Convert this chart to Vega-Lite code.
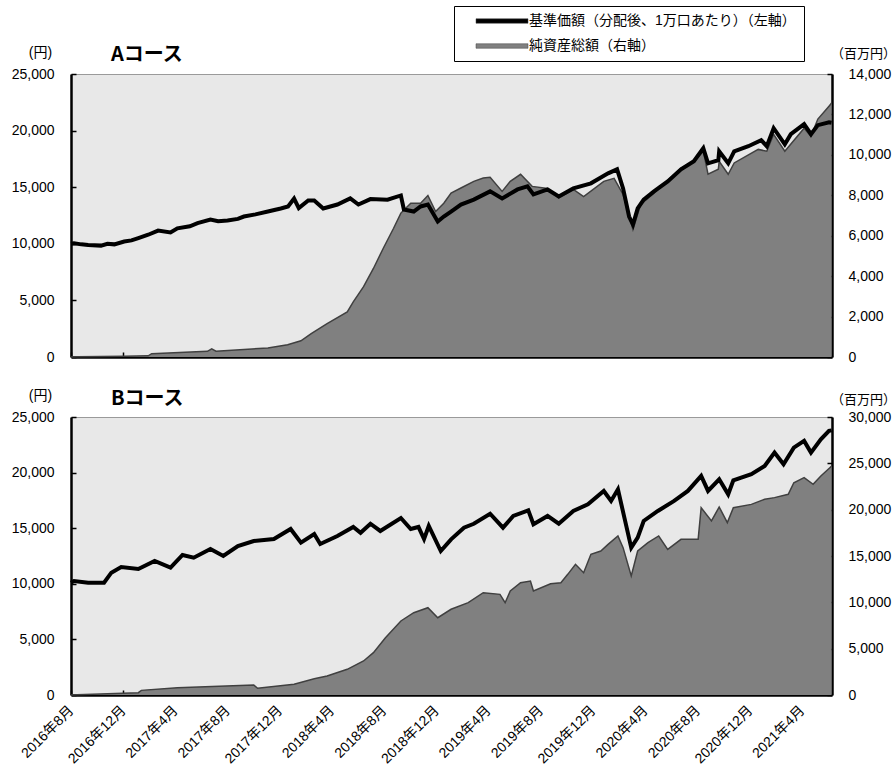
{
  "$schema": "https://vega.github.io/schema/vega-lite/v6.json",
  "background": "white",
  "padding": {"left": 10, "top": 5, "right": 0, "bottom": 0},
  "bounds": "flush",
  "spacing": 60,
  "config": {
    "font": "Liberation Sans, Noto Sans CJK JP",
    "view": {"fill": "#e8e8e8", "stroke": "#9a9a9a", "strokeWidth": 1},
    "axis": {
      "grid": false, "domainColor": "#000000", "domainWidth": 2.5,
      "tickColor": "#000000", "tickWidth": 1.5, "tickSize": -5,
      "labelFont": "Liberation Sans, Noto Sans CJK JP", "labelFontSize": 14, "labelColor": "#000000",
      "titleFont": "Liberation Sans, Noto Sans CJK JP", "titleFontSize": 14, "titleFontWeight": "normal", "titleColor": "#000000",
      "zindex": 1
    },
    "title": {"font": "Noto Sans CJK JP", "color": "#000000"}
  },
  "datasets": {
    "priceA": [
      {"d": "2016/08/01", "v": 10000}, {"d": "2016/08/08", "v": 10040}, {"d": "2016/08/25", "v": 9950},
      {"d": "2016/09/10", "v": 9900}, {"d": "2016/10/10", "v": 9840}, {"d": "2016/10/25", "v": 10000},
      {"d": "2016/11/10", "v": 9950}, {"d": "2016/12/03", "v": 10200}, {"d": "2016/12/20", "v": 10300},
      {"d": "2017/01/05", "v": 10500}, {"d": "2017/01/28", "v": 10800}, {"d": "2017/02/20", "v": 11170},
      {"d": "2017/03/21", "v": 11000}, {"d": "2017/04/06", "v": 11370}, {"d": "2017/05/05", "v": 11550},
      {"d": "2017/05/23", "v": 11820}, {"d": "2017/06/22", "v": 12140}, {"d": "2017/07/10", "v": 12000},
      {"d": "2017/08/01", "v": 12060}, {"d": "2017/08/25", "v": 12200}, {"d": "2017/09/08", "v": 12410},
      {"d": "2017/10/05", "v": 12600}, {"d": "2017/11/03", "v": 12850}, {"d": "2017/12/03", "v": 13120},
      {"d": "2017/12/20", "v": 13300}, {"d": "2018/01/03", "v": 14000}, {"d": "2018/01/14", "v": 13150},
      {"d": "2018/02/05", "v": 13830}, {"d": "2018/02/19", "v": 13830}, {"d": "2018/03/12", "v": 13120},
      {"d": "2018/04/14", "v": 13470}, {"d": "2018/05/14", "v": 14010}, {"d": "2018/06/02", "v": 13470},
      {"d": "2018/06/30", "v": 13950}, {"d": "2018/08/09", "v": 13900}, {"d": "2018/09/09", "v": 14270},
      {"d": "2018/09/16", "v": 13030}, {"d": "2018/10/09", "v": 12850}, {"d": "2018/10/25", "v": 13300},
      {"d": "2018/11/11", "v": 13470}, {"d": "2018/12/04", "v": 11970}, {"d": "2018/12/18", "v": 12410},
      {"d": "2019/01/04", "v": 12850}, {"d": "2019/01/27", "v": 13470}, {"d": "2019/02/26", "v": 13900},
      {"d": "2019/04/05", "v": 14630}, {"d": "2019/05/03", "v": 14010}, {"d": "2019/06/08", "v": 14800},
      {"d": "2019/07/01", "v": 15070}, {"d": "2019/07/15", "v": 14360}, {"d": "2019/08/17", "v": 14800},
      {"d": "2019/09/12", "v": 14180}, {"d": "2019/10/16", "v": 14890}, {"d": "2019/11/26", "v": 15340},
      {"d": "2020/01/05", "v": 16220}, {"d": "2020/01/26", "v": 16580}, {"d": "2020/02/09", "v": 14890},
      {"d": "2020/02/23", "v": 12410}, {"d": "2020/03/03", "v": 11700}, {"d": "2020/03/14", "v": 13120},
      {"d": "2020/03/28", "v": 13900}, {"d": "2020/04/21", "v": 14630}, {"d": "2020/05/23", "v": 15510},
      {"d": "2020/06/23", "v": 16580}, {"d": "2020/07/23", "v": 17290}, {"d": "2020/08/14", "v": 18440},
      {"d": "2020/08/25", "v": 17110}, {"d": "2020/09/18", "v": 17380}, {"d": "2020/09/20", "v": 18170},
      {"d": "2020/10/11", "v": 17110}, {"d": "2020/10/25", "v": 18170}, {"d": "2020/11/27", "v": 18620},
      {"d": "2020/12/27", "v": 19150}, {"d": "2021/01/09", "v": 18620}, {"d": "2021/01/25", "v": 20210},
      {"d": "2021/02/20", "v": 18790}, {"d": "2021/03/06", "v": 19680}, {"d": "2021/04/06", "v": 20570},
      {"d": "2021/04/22", "v": 19680}, {"d": "2021/05/08", "v": 20480}, {"d": "2021/06/03", "v": 20740},
      {"d": "2021/06/09", "v": 20700}
    ],
    "aumA": [
      {"d": "2016/08/01", "v": 0}, {"d": "2016/08/15", "v": 10}, {"d": "2016/12/03", "v": 35},
      {"d": "2017/01/28", "v": 60}, {"d": "2017/02/05", "v": 165}, {"d": "2017/06/15", "v": 280},
      {"d": "2017/06/25", "v": 400}, {"d": "2017/07/05", "v": 290}, {"d": "2017/11/03", "v": 447},
      {"d": "2017/12/19", "v": 610}, {"d": "2018/01/19", "v": 800}, {"d": "2018/02/12", "v": 1160},
      {"d": "2018/03/21", "v": 1650}, {"d": "2018/05/07", "v": 2230}, {"d": "2018/05/21", "v": 2730},
      {"d": "2018/06/14", "v": 3480}, {"d": "2018/07/07", "v": 4380}, {"d": "2018/07/30", "v": 5380},
      {"d": "2018/08/23", "v": 6370}, {"d": "2018/09/09", "v": 7120}, {"d": "2018/10/02", "v": 7610},
      {"d": "2018/10/25", "v": 7610}, {"d": "2018/11/11", "v": 7990}, {"d": "2018/11/29", "v": 7200},
      {"d": "2018/12/18", "v": 7610}, {"d": "2019/01/04", "v": 8110}, {"d": "2019/01/27", "v": 8360},
      {"d": "2019/02/26", "v": 8690}, {"d": "2019/03/20", "v": 8850}, {"d": "2019/04/05", "v": 8890},
      {"d": "2019/05/03", "v": 8190}, {"d": "2019/05/22", "v": 8690}, {"d": "2019/06/15", "v": 9040},
      {"d": "2019/07/12", "v": 8440}, {"d": "2019/08/17", "v": 8340}, {"d": "2019/09/12", "v": 7860},
      {"d": "2019/10/16", "v": 8290}, {"d": "2019/11/09", "v": 7940}, {"d": "2019/12/26", "v": 8690},
      {"d": "2020/01/19", "v": 8840}, {"d": "2020/02/09", "v": 8040}, {"d": "2020/03/03", "v": 6300},
      {"d": "2020/03/21", "v": 7550}, {"d": "2020/04/21", "v": 8100}, {"d": "2020/06/23", "v": 9340},
      {"d": "2020/07/23", "v": 9680}, {"d": "2020/08/14", "v": 10180}, {"d": "2020/08/25", "v": 9040},
      {"d": "2020/09/18", "v": 9290}, {"d": "2020/09/20", "v": 9680}, {"d": "2020/10/11", "v": 9040},
      {"d": "2020/10/25", "v": 9600}, {"d": "2020/12/20", "v": 10270}, {"d": "2021/01/09", "v": 10180},
      {"d": "2021/01/25", "v": 11020}, {"d": "2021/02/20", "v": 10180}, {"d": "2021/04/06", "v": 11320},
      {"d": "2021/04/22", "v": 10920}, {"d": "2021/05/08", "v": 11770}, {"d": "2021/06/03", "v": 12410},
      {"d": "2021/06/09", "v": 12560}
    ],
    "priceB": [
      {"d": "2016/08/01", "v": 10100}, {"d": "2016/08/08", "v": 10250}, {"d": "2016/09/10", "v": 10100},
      {"d": "2016/10/17", "v": 10100}, {"d": "2016/11/03", "v": 11000}, {"d": "2016/11/26", "v": 11510},
      {"d": "2017/01/05", "v": 11330}, {"d": "2017/02/12", "v": 12050}, {"d": "2017/03/21", "v": 11450},
      {"d": "2017/04/18", "v": 12590}, {"d": "2017/05/14", "v": 12350}, {"d": "2017/06/22", "v": 13130},
      {"d": "2017/07/22", "v": 12500}, {"d": "2017/08/25", "v": 13400}, {"d": "2017/10/01", "v": 13850},
      {"d": "2017/11/17", "v": 14030}, {"d": "2017/12/26", "v": 14930}, {"d": "2018/01/19", "v": 13700},
      {"d": "2018/02/19", "v": 14480}, {"d": "2018/03/05", "v": 13580}, {"d": "2018/04/14", "v": 14300},
      {"d": "2018/05/21", "v": 15110}, {"d": "2018/06/07", "v": 14590}, {"d": "2018/06/30", "v": 15400},
      {"d": "2018/07/23", "v": 14750}, {"d": "2018/09/09", "v": 15920}, {"d": "2018/10/02", "v": 14930},
      {"d": "2018/10/20", "v": 15110}, {"d": "2018/11/02", "v": 14030}, {"d": "2018/11/13", "v": 15200},
      {"d": "2018/12/11", "v": 12950}, {"d": "2019/01/04", "v": 14000}, {"d": "2019/02/03", "v": 15050},
      {"d": "2019/02/26", "v": 15400}, {"d": "2019/04/05", "v": 16300}, {"d": "2019/05/05", "v": 15050},
      {"d": "2019/05/29", "v": 16100}, {"d": "2019/07/03", "v": 16600}, {"d": "2019/07/15", "v": 15350},
      {"d": "2019/08/17", "v": 16100}, {"d": "2019/09/12", "v": 15400}, {"d": "2019/10/16", "v": 16550},
      {"d": "2019/11/19", "v": 17150}, {"d": "2019/12/26", "v": 18350}, {"d": "2020/01/12", "v": 17450},
      {"d": "2020/01/28", "v": 18500}, {"d": "2020/02/12", "v": 15950}, {"d": "2020/02/28", "v": 13250},
      {"d": "2020/03/14", "v": 14150}, {"d": "2020/03/28", "v": 15650}, {"d": "2020/04/30", "v": 16550},
      {"d": "2020/06/07", "v": 17450}, {"d": "2020/07/09", "v": 18350}, {"d": "2020/08/09", "v": 19700},
      {"d": "2020/08/25", "v": 18350}, {"d": "2020/09/20", "v": 19400}, {"d": "2020/10/11", "v": 18050},
      {"d": "2020/10/23", "v": 19300}, {"d": "2020/12/04", "v": 19850}, {"d": "2021/01/04", "v": 20600},
      {"d": "2021/01/27", "v": 21800}, {"d": "2021/02/17", "v": 20750}, {"d": "2021/03/13", "v": 22250},
      {"d": "2021/04/06", "v": 22850}, {"d": "2021/04/22", "v": 21800}, {"d": "2021/05/15", "v": 23000},
      {"d": "2021/06/03", "v": 23750}, {"d": "2021/06/09", "v": 23800}
    ],
    "aumB": [
      {"d": "2016/08/01", "v": 0}, {"d": "2016/08/15", "v": 20}, {"d": "2017/01/05", "v": 250},
      {"d": "2017/01/12", "v": 500}, {"d": "2017/04/06", "v": 790}, {"d": "2017/10/01", "v": 1080},
      {"d": "2017/10/10", "v": 720}, {"d": "2018/01/03", "v": 1150}, {"d": "2018/02/19", "v": 1760},
      {"d": "2018/03/21", "v": 2050}, {"d": "2018/05/07", "v": 2770}, {"d": "2018/06/14", "v": 3670},
      {"d": "2018/07/07", "v": 4570}, {"d": "2018/08/04", "v": 6180}, {"d": "2018/09/09", "v": 7990},
      {"d": "2018/10/09", "v": 8880}, {"d": "2018/11/11", "v": 9420}, {"d": "2018/12/04", "v": 8340},
      {"d": "2019/01/04", "v": 9250}, {"d": "2019/02/13", "v": 9960}, {"d": "2019/03/20", "v": 11040},
      {"d": "2019/04/28", "v": 10860}, {"d": "2019/05/10", "v": 9960}, {"d": "2019/05/22", "v": 11220},
      {"d": "2019/06/15", "v": 12120}, {"d": "2019/07/08", "v": 12300}, {"d": "2019/07/15", "v": 11220},
      {"d": "2019/08/24", "v": 12010}, {"d": "2019/09/17", "v": 12120}, {"d": "2019/10/03", "v": 13020},
      {"d": "2019/10/21", "v": 14100}, {"d": "2019/11/09", "v": 13200}, {"d": "2019/11/26", "v": 15180},
      {"d": "2019/12/19", "v": 15540}, {"d": "2020/01/05", "v": 16260}, {"d": "2020/01/28", "v": 17160},
      {"d": "2020/02/09", "v": 15900}, {"d": "2020/02/28", "v": 12840}, {"d": "2020/03/14", "v": 15540},
      {"d": "2020/04/07", "v": 16440}, {"d": "2020/05/02", "v": 17160}, {"d": "2020/05/23", "v": 15720},
      {"d": "2020/06/23", "v": 16800}, {"d": "2020/08/02", "v": 16800}, {"d": "2020/08/09", "v": 20210},
      {"d": "2020/09/02", "v": 18780}, {"d": "2020/09/20", "v": 20290}, {"d": "2020/10/09", "v": 18600},
      {"d": "2020/10/23", "v": 20210}, {"d": "2020/12/04", "v": 20570}, {"d": "2021/01/04", "v": 21120},
      {"d": "2021/01/27", "v": 21300}, {"d": "2021/02/28", "v": 21660}, {"d": "2021/03/13", "v": 22910},
      {"d": "2021/04/06", "v": 23450}, {"d": "2021/04/27", "v": 22740}, {"d": "2021/05/15", "v": 23630},
      {"d": "2021/06/05", "v": 24530}, {"d": "2021/06/09", "v": 24700}
    ]
  },
  "vconcat": [
    {
      "width": 761,
      "height": 283,
      "title": {"text": "Aコース", "anchor": "start", "frame": "group", "dx": 40, "dy": 30, "offset": 10, "fontSize": 20, "fontWeight": "bold"},
      "encoding": {
        "x": {
          "field": "d", "type": "temporal",
          "scale": {"domain": [{"year": 2016, "month": 8, "date": 1}, {"year": 2021, "month": 6, "date": 10}]},
          "axis": {
            "title": null, "labels": false,
            "values": [
              {"year": 2016, "month": 8, "date": 1}, {"year": 2016, "month": 12, "date": 1},
              {"year": 2017, "month": 4, "date": 1}, {"year": 2017, "month": 8, "date": 1},
              {"year": 2017, "month": 12, "date": 1}, {"year": 2018, "month": 4, "date": 1},
              {"year": 2018, "month": 8, "date": 1}, {"year": 2018, "month": 12, "date": 1},
              {"year": 2019, "month": 4, "date": 1}, {"year": 2019, "month": 8, "date": 1},
              {"year": 2019, "month": 12, "date": 1}, {"year": 2020, "month": 4, "date": 1},
              {"year": 2020, "month": 8, "date": 1}, {"year": 2020, "month": 12, "date": 1},
              {"year": 2021, "month": 4, "date": 1}
            ]
          }
        }
      },
      "layer": [
        {
          "data": {"name": "aumA"},
          "mark": {"type": "area", "opacity": 1},
          "encoding": {
            "y": {
              "field": "v", "type": "quantitative",
              "scale": {"domain": [0, 14000], "nice": false},
              "axis": {"orient": "right", "values": [0, 2000, 4000, 6000, 8000, 10000, 12000, 14000], "format": ",d",
                       "labelPadding": 21, "title": "（百万円）", "titleAngle": 0, "titleAlign": "center", "titleBaseline": "alphabetic",
                       "titleX": 31, "titleY": -17, "titleFontSize": 13}
            },
            "color": {
              "datum": "純資産総額（右軸）",
              "scale": {"domain": ["基準価額（分配後、1万口あたり）（左軸）", "純資産総額（右軸）"], "range": ["#000000", "#808080"]},
              "legend": {
                "orient": "none", "legendX": 383, "legendY": -68, "direction": "vertical", "title": null,
                "strokeColor": "#000000", "fillColor": "#ffffff", "padding": 8, "rowPadding": 11,
                "labelFontSize": 14, "labelLimit": 600, "labelColor": "#000000", "labelFont": "Liberation Sans, Noto Sans CJK JP",
                "symbolType": "M-5.2,-0.45H5.2V0.45H-5.2Z", "symbolSize": 100, "symbolOffset": 33, "labelOffset": 20,
                "symbolStrokeColor": "#404040", "symbolStrokeWidth": 0.5, "symbolOpacity": 1
              }
            }
          }
        },
        {
          "data": {"name": "aumA"},
          "mark": {"type": "line", "color": "#404040", "strokeWidth": 1.5},
          "encoding": {
            "y": {"field": "v", "type": "quantitative", "scale": {"domain": [0, 14000], "nice": false}, "axis": null}
          }
        },
        {
          "data": {"name": "priceA"},
          "mark": {"type": "line", "color": "#000000", "strokeWidth": 4},
          "encoding": {
            "y": {
              "field": "v", "type": "quantitative",
              "scale": {"domain": [0, 25000], "nice": false},
              "axis": {"orient": "left", "values": [0, 5000, 10000, 15000, 20000, 25000], "format": ",d",
                       "labelPadding": 22, "title": "(円)", "titleAngle": 0, "titleAlign": "center", "titleBaseline": "alphabetic",
                       "titleX": -31, "titleY": -18}
            }
          }
        }
      ],
      "resolve": {"scale": {"y": "independent"}}
    },
    {
      "width": 761,
      "height": 278,
      "title": {"text": "Bコース", "anchor": "start", "frame": "group", "dx": 40, "dy": 31, "offset": 10, "fontSize": 20, "fontWeight": "bold"},
      "encoding": {
        "x": {
          "field": "d", "type": "temporal",
          "scale": {"domain": [{"year": 2016, "month": 8, "date": 1}, {"year": 2021, "month": 6, "date": 10}]},
          "axis": {
            "title": null, "format": "%Y年%-m月", "labelAngle": -45, "labelAlign": "right", "labelBaseline": "middle",
            "labelPadding": 18, "labelFontSize": 14, "labelOverlap": false, "labelFlush": false,
            "values": [
              {"year": 2016, "month": 8, "date": 1}, {"year": 2016, "month": 12, "date": 1},
              {"year": 2017, "month": 4, "date": 1}, {"year": 2017, "month": 8, "date": 1},
              {"year": 2017, "month": 12, "date": 1}, {"year": 2018, "month": 4, "date": 1},
              {"year": 2018, "month": 8, "date": 1}, {"year": 2018, "month": 12, "date": 1},
              {"year": 2019, "month": 4, "date": 1}, {"year": 2019, "month": 8, "date": 1},
              {"year": 2019, "month": 12, "date": 1}, {"year": 2020, "month": 4, "date": 1},
              {"year": 2020, "month": 8, "date": 1}, {"year": 2020, "month": 12, "date": 1},
              {"year": 2021, "month": 4, "date": 1}
            ]
          }
        }
      },
      "layer": [
        {
          "data": {"name": "aumB"},
          "mark": {"type": "area", "color": "#808080", "opacity": 1},
          "encoding": {
            "y": {
              "field": "v", "type": "quantitative",
              "scale": {"domain": [0, 30000], "nice": false},
              "axis": {"orient": "right", "values": [0, 5000, 10000, 15000, 20000, 25000, 30000], "format": ",d",
                       "labelPadding": 21, "title": "（百万円）", "titleAngle": 0, "titleAlign": "center", "titleBaseline": "alphabetic",
                       "titleX": 31, "titleY": -14, "titleFontSize": 13}
            }
          }
        },
        {
          "data": {"name": "aumB"},
          "mark": {"type": "line", "color": "#404040", "strokeWidth": 1.5},
          "encoding": {
            "y": {"field": "v", "type": "quantitative", "scale": {"domain": [0, 30000], "nice": false}, "axis": null}
          }
        },
        {
          "data": {"name": "priceB"},
          "mark": {"type": "line", "color": "#000000", "strokeWidth": 4},
          "encoding": {
            "y": {
              "field": "v", "type": "quantitative",
              "scale": {"domain": [0, 25000], "nice": false},
              "axis": {"orient": "left", "values": [0, 5000, 10000, 15000, 20000, 25000], "format": ",d",
                       "labelPadding": 22, "title": "(円)", "titleAngle": 0, "titleAlign": "center", "titleBaseline": "alphabetic",
                       "titleX": -31, "titleY": -18}
            }
          }
        }
      ],
      "resolve": {"scale": {"y": "independent"}}
    }
  ]
}
